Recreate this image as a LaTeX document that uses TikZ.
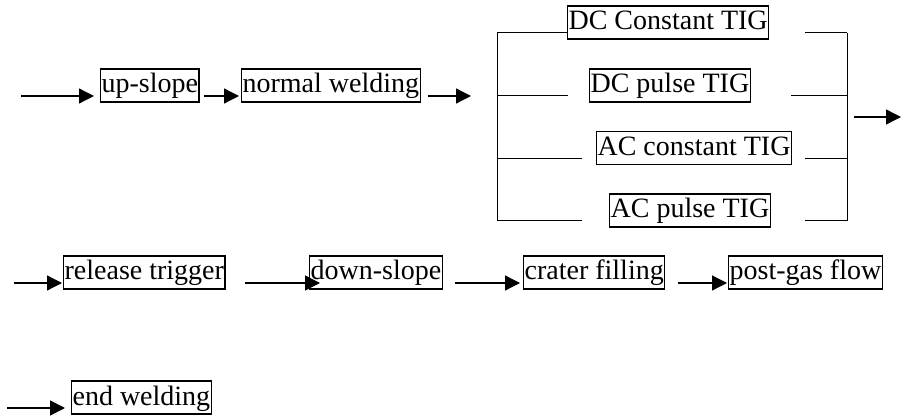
\documentclass[tikz,border=0pt]{standalone}
\usepackage{fontspec}
\setmainfont{Liberation Serif}
\usetikzlibrary{arrows.meta, positioning, calc}

\begin{document}
\begin{tikzpicture}[x=1pt, y=-1pt, >={Triangle[length=15pt, width=15pt]},
	stage/.style={draw, line width=1.2pt, anchor=west, inner xsep=1pt, inner ysep=1pt,
		text height=23pt, text depth=8pt, font=\fontsize{28}{30}\selectfont},
	flow/.style={->, line width=1.3pt},
	rail/.style={line width=1pt}]
	\useasboundingbox (0,0) rectangle (902,419);

	% Start of welding
	\coordinate (in0) at (21,96);
	\node[stage] (up) at (100,85.5) {up-slope};
	\node[stage] (weld) at (241,85.5) {normal welding};
	\coordinate (split) at (471,96);

	% Welding modes
	\node[stage] (dcc) at (567,22.5) {DC Constant TIG};
	\node[stage] (dcp) at (589,85.5) {DC pulse TIG};
	\node[stage] (acc) at (596,148) {AC constant TIG};
	\node[stage] (acp) at (609,210.5) {AC pulse TIG};

	% Left and right rails
	\coordinate (l1) at (497,33);
	\coordinate (l2) at (497,96);
	\coordinate (l3) at (497,159);
	\coordinate (l4) at (497,221);
	\coordinate (r1) at (847,33);
	\coordinate (r2) at (847,96);
	\coordinate (r3) at (847,159);
	\coordinate (r4) at (847,221);
	\coordinate (out0) at (854,117);
	\coordinate (out1) at (901,117);

	% End of welding
	\node[stage] (rel) at (63,272.5) {release trigger};
	\node[stage] (down) at (309,272.5) {down-slope};
	\node[stage] (crater) at (523,272.5) {crater filling};
	\node[stage] (post) at (728,272.5) {post-gas flow};
	\node[stage] (endw) at (71,397.5) {end welding};
	\coordinate (in1) at (14,283);
	\coordinate (in2) at (245,283);
	\coordinate (in3) at (455,283);
	\coordinate (in4) at (678,283);
	\coordinate (in5) at (7,408);

	% Connections
	\draw[flow, shorten >=6pt] (in0) -- (up.west |- in0);
	\draw[flow, shorten <=4pt, shorten >=2pt] (up.east |- in0) -- (weld.west |- in0);
	\draw[flow, shorten <=7pt] (weld.east |- in0) -- (split);

	\draw[rail] (l1) -- (l4);
	\draw[rail] (l1) -- (dcc.west |- l1);
	\draw[rail] (l2) -- ++(71,0);
	\draw[rail] (l3) -- ++(85,0);
	\draw[rail] (l4) -- ++(85,0);
	\draw[rail] (r1) -- (r4);
	\draw[rail] (r1) -- ++(-42,0);
	\draw[rail] (r2) -- ++(-56,0);
	\draw[rail] (r3) -- ++(-42,0);
	\draw[rail] (r4) -- ++(-42,0);
	\draw[flow] (out0) -- (out1);

	\draw[flow, shorten >=1pt] (in1) -- (rel.west |- in1);
	\draw[flow, shorten >=-11pt] (in2) -- (down.west |- in2);
	\draw[flow, shorten >=3pt] (in3) -- (crater.west |- in3);
	\draw[flow, shorten >=1pt] (in4) -- (post.west |- in4);
	\draw[flow, shorten >=6pt] (in5) -- (endw.west |- in5);
\end{tikzpicture}
\end{document}
